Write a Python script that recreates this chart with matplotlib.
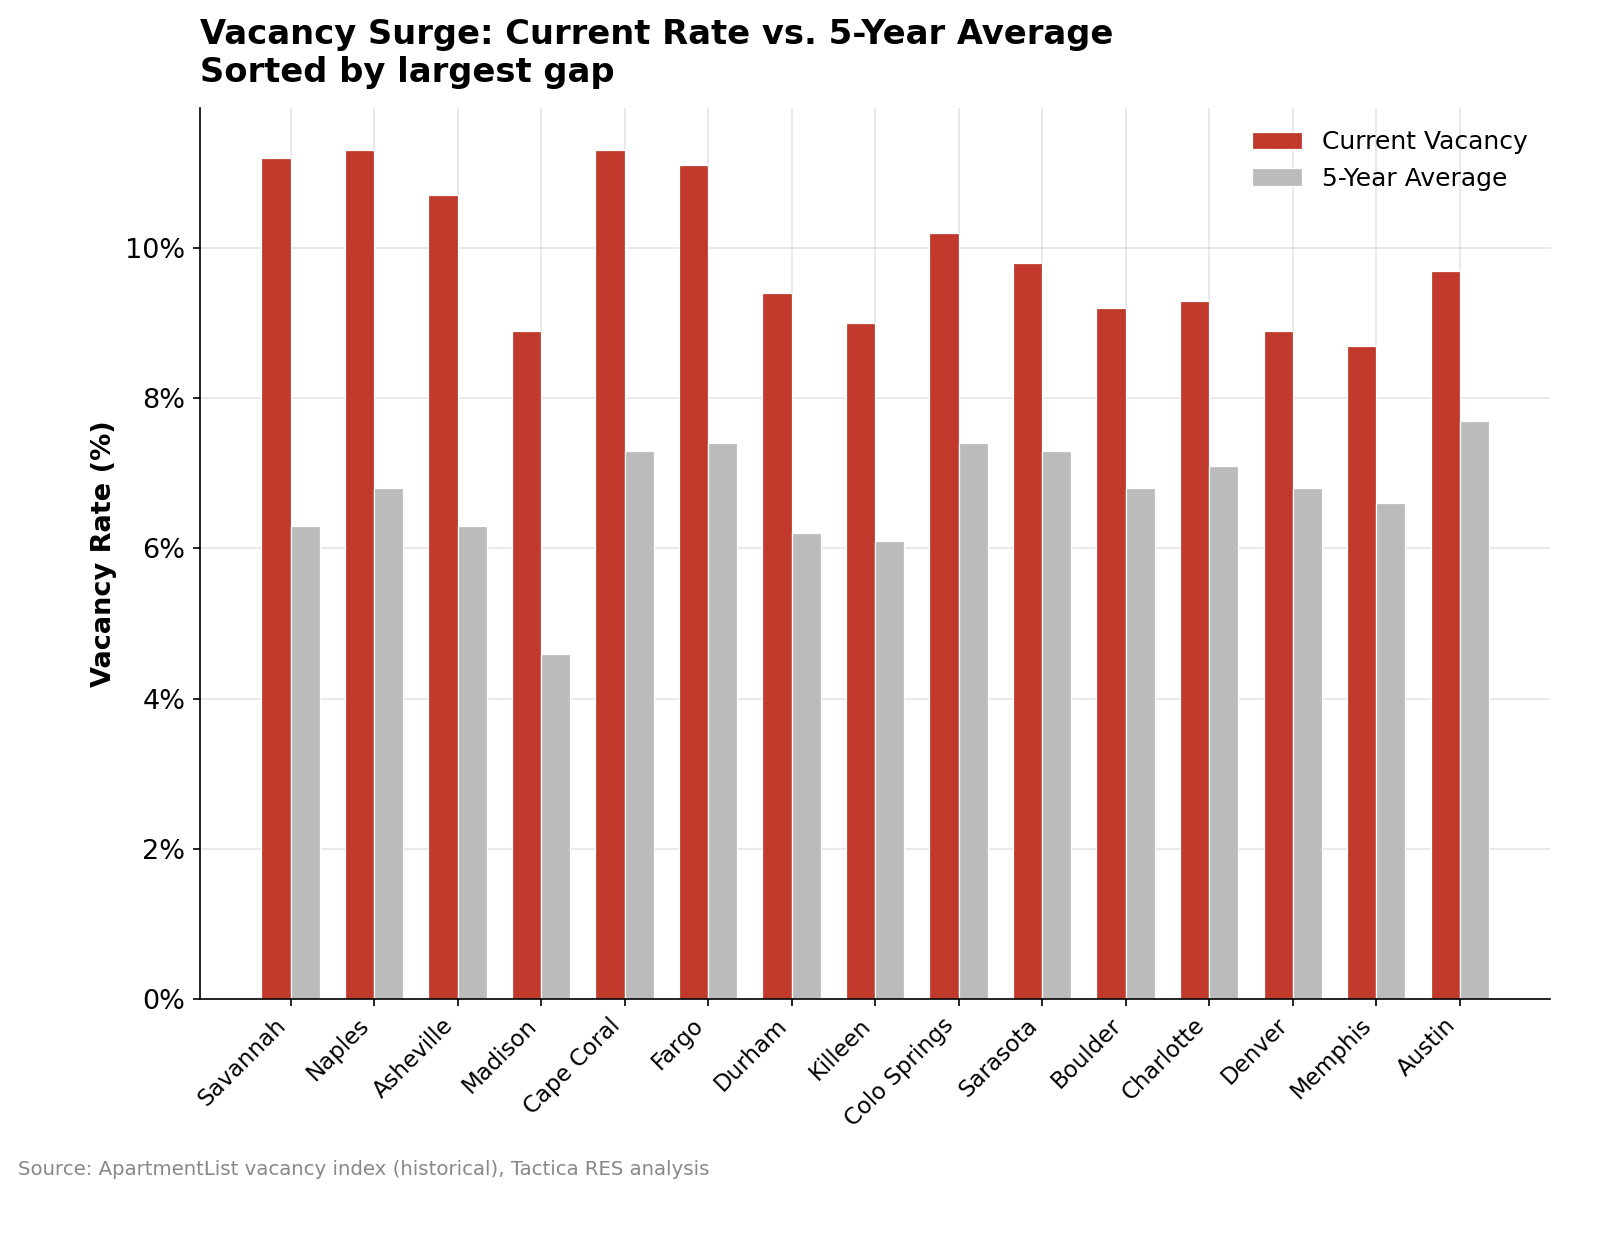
import matplotlib.pyplot as plt
import numpy as np
from matplotlib.ticker import FuncFormatter

cities = ['Savannah', 'Naples', 'Asheville', 'Madison', 'Cape Coral', 'Fargo',
          'Durham', 'Killeen', 'Colo Springs', 'Sarasota', 'Boulder',
          'Charlotte', 'Denver', 'Memphis', 'Austin']
current = [11.2, 11.3, 10.7, 8.9, 11.3, 11.1, 9.4, 9.0, 10.2, 9.8, 9.2, 9.3, 8.9, 8.7, 9.7]
avg5 = [6.3, 6.8, 6.3, 4.6, 7.3, 7.4, 6.2, 6.1, 7.4, 7.3, 6.8, 7.1, 6.8, 6.6, 7.7]

fig = plt.figure(figsize=(10.8, 1234 / 150), dpi=150)
ax = fig.add_axes([0.1235, 0.1904, 0.8335, 0.7221])

x = np.arange(len(cities))
w = 0.35
ax.bar(x - w / 2, current, w, color='#c0392b', edgecolor='white', linewidth=0.6,
       label='Current Vacancy', zorder=2)
ax.bar(x + w / 2, avg5, w, color='#bbbbbb', edgecolor='white', linewidth=0.6,
       label='5-Year Average', zorder=2)

ax.set_xticks(x)
ax.set_xticklabels(cities, rotation=45, ha='right', fontsize=11)
ax.tick_params(axis='y', labelsize=13)
ax.yaxis.set_major_formatter(FuncFormatter(lambda v, p: f'{v:.0f}%'))
ax.set_ylabel('Vacancy Rate (%)', fontsize=13, fontweight='bold')
ax.grid(True, color='#cccccc', alpha=0.5, linewidth=0.8, zorder=0)
ax.set_axisbelow(True)
for s in ['top', 'right']:
    ax.spines[s].set_visible(False)

ax.set_title('Vacancy Surge: Current Rate vs. 5-Year Average\nSorted by largest gap',
             loc='left', fontsize=16.2, fontweight='bold', pad=12.5)
ax.legend(frameon=False, fontsize=12, loc='upper right')

fig.text(0.011, 0.048, 'Source: ApartmentList vacancy index (historical), Tactica RES analysis',
         fontsize=9.5, color='#888888')

fig.savefig('out.png', dpi=150)
